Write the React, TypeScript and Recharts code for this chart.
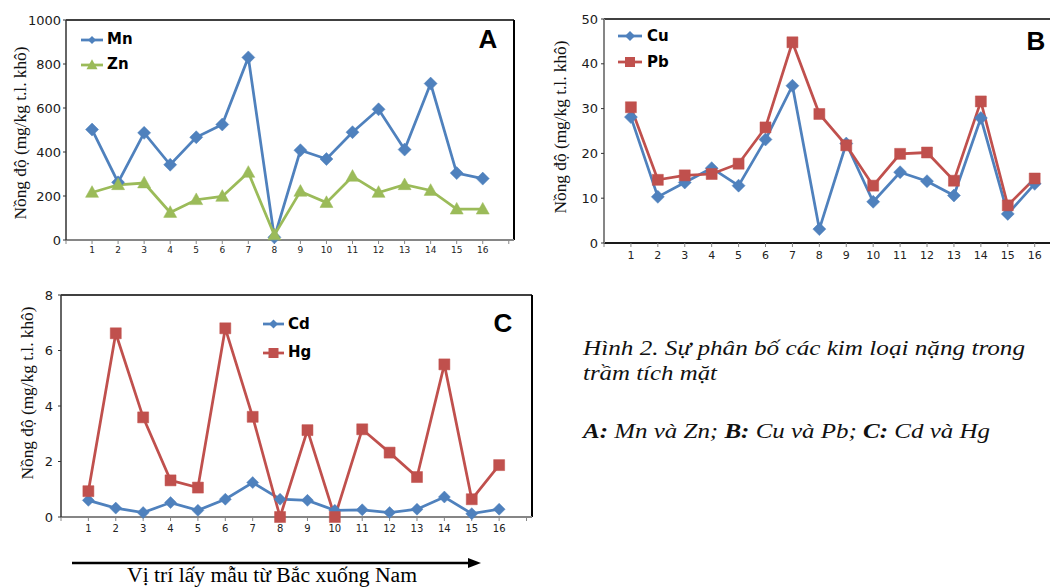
import React from "react";
import { LineChart, Line, XAxis, YAxis, Legend, ReferenceLine } from "recharts";

// Vị trí lấy mẫu (1..16, từ Bắc xuống Nam)
const sites = [1, 2, 3, 4, 5, 6, 7, 8, 9, 10, 11, 12, 13, 14, 15, 16];
const xTicks = [0, 1, 2, 3, 4, 5, 6, 7, 8, 9, 10, 11, 12, 13, 14, 15, 16, 17];

// A: Mn và Zn
const mn = [502, 262, 487, 342, 467, 525, 830, 12, 408, 368, 490, 594, 411, 711, 304, 279];
const zn = [216, 251, 259, 125, 183, 198, 307, 23, 221, 170, 289, 216, 251, 225, 140, 140];
const ticksA = [0, 200, 400, 600, 800, 1000];

// B: Cu và Pb
const cu = [28.1, 10.3, 13.5, 16.7, 12.8, 23.1, 35.1, 3.1, 22.2, 9.2, 15.8, 13.8, 10.6, 27.9, 6.5, 13.2];
const pb = [30.3, 14.1, 15.1, 15.4, 17.7, 25.8, 44.8, 28.8, 21.8, 12.8, 19.9, 20.2, 13.9, 31.6, 8.4, 14.4];
const ticksB = [0, 10, 20, 30, 40, 50];

// C: Cd và Hg
const cd = [0.6, 0.32, 0.16, 0.52, 0.24, 0.64, 1.24, 0.64, 0.6, 0.24, 0.26, 0.16, 0.28, 0.72, 0.12, 0.28];
const hg = [0.93, 6.62, 3.59, 1.32, 1.06, 6.8, 3.61, 0.0, 3.13, 0.0, 3.16, 2.32, 1.44, 5.5, 0.64, 1.87];
const ticksC = [0, 2, 4, 6, 8];

const BLUE = "#4F81BD";
const GREEN = "#9BBB59";
const RED = "#C0504D";
const SANS = "'DejaVu Sans', Verdana, sans-serif";
const SERIF = "'Liberation Serif', 'Times New Roman', 'DejaVu Serif', serif";
const Y_TITLE = "Nồng độ (mg/kg t.l. khô)";

const dataA = sites.map((s, i) => ({ site: s, mn: mn[i], zn: zn[i] }));
const dataB = sites.map((s, i) => ({ site: s, cu: cu[i], pb: pb[i] }));
const dataC = sites.map((s, i) => ({ site: s, cd: cd[i], hg: hg[i] }));

type Shape = "diamond" | "square" | "triangle";

function markerPath(shape: Shape, cx: number, cy: number, r: number) {
  if (shape === "diamond") return `M${cx},${cy - r}L${cx + r},${cy}L${cx},${cy + r}L${cx - r},${cy}Z`;
  if (shape === "square") return `M${cx - r},${cy - r}H${cx + r}V${cy + r}H${cx - r}Z`;
  return `M${cx},${cy - r * 1.05}L${cx + r},${cy + r * 0.75}L${cx - r},${cy + r * 0.75}Z`;
}

const makeDot = (shape: Shape, color: string, r: number) => (props: any) => {
  const { cx, cy, index } = props;
  if (cx == null || cy == null) return <g key={index} />;
  return <path key={index} d={markerPath(shape, cx, cy, r)} fill={color} stroke={color} strokeWidth={0.5} />;
};

function YTitle({ x, y }: { x: number; y: number }) {
  return (
    <text
      x={x}
      y={y}
      transform={`rotate(-90 ${x} ${y})`}
      textAnchor="middle"
      dominantBaseline="central"
      style={{ fontFamily: SERIF, fontSize: 17 }}
      fill="#111"
      textLength={173}
      lengthAdjust="spacingAndGlyphs"
    >
      {Y_TITLE}
    </text>
  );
}

type LegendItem = { name: string; color: string; shape: Shape; r: number };

function LegendBox({ items, rowH, lineW, gap }: { items: LegendItem[]; rowH: number; lineW: number; gap: number }) {
  return (
    <div>
      {items.map((it) => (
        <div key={it.name} style={{ height: rowH, display: "flex", alignItems: "center" }}>
          <svg width={lineW} height={16} style={{ marginRight: gap }}>
            <line x1={0} x2={lineW} y1={8} y2={8} stroke={it.color} strokeWidth={2.75} />
            <path d={markerPath(it.shape, lineW / 2, 8, it.r)} fill={it.color} />
          </svg>
          <span style={{ fontFamily: SANS, fontWeight: "bold", fontSize: 15, color: "#000", lineHeight: 1 }}>
            {it.name}
          </span>
        </div>
      ))}
    </div>
  );
}

const xTickFmt = (v: number) => (v >= 1 && v <= 16 ? String(v) : "");

export default function App() {
  return (
    <div style={{ position: "relative", width: 1050, height: 587, overflow: "hidden", background: "#fff" }}>
      <style>{`body{margin:0}`}</style>

      {/* A */}
      <div style={{ position: "absolute", left: 0, top: 0 }}>
        <LineChart width={530} height={270} data={dataA} margin={{ top: 20, right: 16, bottom: 0, left: 0 }}>
          <XAxis
            dataKey="site"
            type="number"
            domain={[0, 17.2]}
            ticks={xTicks}
            tickFormatter={xTickFmt}
            interval={0}
            height={30}
            tickSize={4}
            tickMargin={3}
            axisLine={{ stroke: "#868686", strokeWidth: 2 }}
            tickLine={{ stroke: "#868686" }}
            tick={{ fontFamily: SANS, fontSize: 9, fill: "#222" }}
          />
          <YAxis
            type="number"
            domain={[0, 1000]}
            ticks={ticksA}
            width={66}
            tickSize={3}
            tickMargin={2}
            axisLine={{ stroke: "#333", strokeWidth: 1.5 }}
            tickLine={{ stroke: "#333" }}
            tick={{ fontFamily: SANS, fontSize: 13, fill: "#1a1a1a" }}
          />
          <ReferenceLine y={1000} stroke="#000" strokeWidth={1.5} />
          <ReferenceLine x={17.2} stroke="#000" strokeWidth={2} />
          <Legend
            layout="vertical"
            align="center"
            verticalAlign="middle"
            wrapperStyle={{ left: 81, top: 27, width: "auto" }}
            content={() => (
              <LegendBox
                rowH={25}
                lineW={22}
                gap={4}
                items={[
                  { name: "Mn", color: BLUE, shape: "diamond", r: 4 },
                  { name: "Zn", color: GREEN, shape: "triangle", r: 5.5 },
                ]}
              />
            )}
          />
          <Line dataKey="mn" name="Mn" stroke={BLUE} strokeWidth={2.75} dot={makeDot("diamond", BLUE, 6.5)} isAnimationActive={false} />
          <Line dataKey="zn" name="Zn" stroke={GREEN} strokeWidth={2.75} dot={makeDot("triangle", GREEN, 6.5)} isAnimationActive={false} />
        </LineChart>
      </div>

      {/* B */}
      <div style={{ position: "absolute", left: 530, top: 0 }}>
        <LineChart width={560} height={273} data={dataB} margin={{ top: 19, right: 23, bottom: 0, left: 0 }}>
          <XAxis
            dataKey="site"
            type="number"
            domain={[0, 17.2]}
            ticks={xTicks}
            tickFormatter={xTickFmt}
            interval={0}
            height={30}
            tickSize={4}
            tickMargin={4}
            axisLine={{ stroke: "#1a1a1a", strokeWidth: 2 }}
            tickLine={{ stroke: "#868686" }}
            tick={{ fontFamily: SANS, fontSize: 11, fill: "#222" }}
          />
          <YAxis
            type="number"
            domain={[0, 50]}
            ticks={ticksB}
            width={74}
            tickSize={3}
            tickMargin={3}
            axisLine={{ stroke: "#868686", strokeWidth: 2 }}
            tickLine={{ stroke: "#333" }}
            tick={{ fontFamily: SANS, fontSize: 13, fill: "#1a1a1a" }}
          />
          <ReferenceLine y={50} stroke="#000" strokeWidth={1.5} />
          <Legend
            layout="vertical"
            align="center"
            verticalAlign="middle"
            wrapperStyle={{ left: 88, top: 23, width: "auto" }}
            content={() => (
              <LegendBox
                rowH={26}
                lineW={24}
                gap={5}
                items={[
                  { name: "Cu", color: BLUE, shape: "diamond", r: 5 },
                  { name: "Pb", color: RED, shape: "square", r: 5 },
                ]}
              />
            )}
          />
          <Line dataKey="cu" name="Cu" stroke={BLUE} strokeWidth={2.75} dot={makeDot("diamond", BLUE, 6.5)} isAnimationActive={false} />
          <Line dataKey="pb" name="Pb" stroke={RED} strokeWidth={2.75} dot={makeDot("square", RED, 5.5)} isAnimationActive={false} />
        </LineChart>
      </div>

      {/* C */}
      <div style={{ position: "absolute", left: 0, top: 280 }}>
        <LineChart width={540} height={267} data={dataC} margin={{ top: 15, right: 8, bottom: 0, left: 0 }}>
          <XAxis
            dataKey="site"
            type="number"
            domain={[0, 17.2]}
            ticks={xTicks}
            tickFormatter={xTickFmt}
            interval={0}
            height={30}
            tickSize={4}
            tickMargin={4}
            axisLine={{ stroke: "#868686", strokeWidth: 2 }}
            tickLine={{ stroke: "#868686" }}
            tick={{ fontFamily: SANS, fontSize: 10, fill: "#222" }}
          />
          <YAxis
            type="number"
            domain={[0, 8]}
            ticks={ticksC}
            width={61}
            tickSize={3}
            tickMargin={5}
            axisLine={{ stroke: "#333", strokeWidth: 1.5 }}
            tickLine={{ stroke: "#333" }}
            tick={{ fontFamily: SANS, fontSize: 13, fill: "#1a1a1a" }}
          />
          <ReferenceLine y={8} stroke="#000" strokeWidth={1.5} />
          <ReferenceLine x={17.2} stroke="#000" strokeWidth={2} />
          <Legend
            layout="vertical"
            align="center"
            verticalAlign="middle"
            wrapperStyle={{ left: 263, top: 30, width: "auto" }}
            content={() => (
              <LegendBox
                rowH={28.5}
                lineW={21}
                gap={4}
                items={[
                  { name: "Cd", color: BLUE, shape: "diamond", r: 4.5 },
                  { name: "Hg", color: RED, shape: "square", r: 5 },
                ]}
              />
            )}
          />
          <Line dataKey="cd" name="Cd" stroke={BLUE} strokeWidth={2.75} dot={makeDot("diamond", BLUE, 6)} isAnimationActive={false} />
          <Line dataKey="hg" name="Hg" stroke={RED} strokeWidth={2.75} dot={makeDot("square", RED, 5.5)} isAnimationActive={false} />
        </LineChart>
      </div>

      {/* panel letters, axis titles, arrow, caption */}
      <svg width={1050} height={587} style={{ position: "absolute", left: 0, top: 0, pointerEvents: "none" }}>
        <g style={{ fontFamily: "'Liberation Sans', Arial, sans-serif", fontWeight: "bold", fontSize: 26 }} textAnchor="middle" fill="#000">
          <text x={488} y={48}>A</text>
          <text x={1036} y={50}>B</text>
          <text x={503} y={332}>C</text>
        </g>

        <YTitle x={20} y={133} />
        <YTitle x={560} y={127} />
        <YTitle x={27} y={393} />

        <line x1={72} x2={470} y1={563} y2={563} stroke="#000" strokeWidth={2.5} />
        <path d="M468,558 L481,563 L468,568 Z" fill="#000" />
        <text
          x={272}
          y={582}
          textAnchor="middle"
          style={{ fontFamily: SERIF, fontSize: 20 }}
          fill="#000"
          textLength={290}
          lengthAdjust="spacingAndGlyphs"
        >
          Vị trí lấy mẫu từ Bắc xuống Nam
        </text>

        <g style={{ fontFamily: SERIF, fontStyle: "italic", fontSize: 21 }} fill="#111">
          <text x={583} y={355} textLength={442} lengthAdjust="spacingAndGlyphs">
            Hình 2. Sự phân bố các kim loại nặng trong
          </text>
          <text x={583} y={380} textLength={134} lengthAdjust="spacingAndGlyphs">
            trầm tích mặt
          </text>
          <text x={583} y={438} textLength={407} lengthAdjust="spacingAndGlyphs">
            <tspan fontWeight="bold">A:</tspan> Mn và Zn; <tspan fontWeight="bold">B:</tspan> Cu và Pb;{" "}
            <tspan fontWeight="bold">C:</tspan> Cd và Hg
          </text>
        </g>
      </svg>
    </div>
  );
}
